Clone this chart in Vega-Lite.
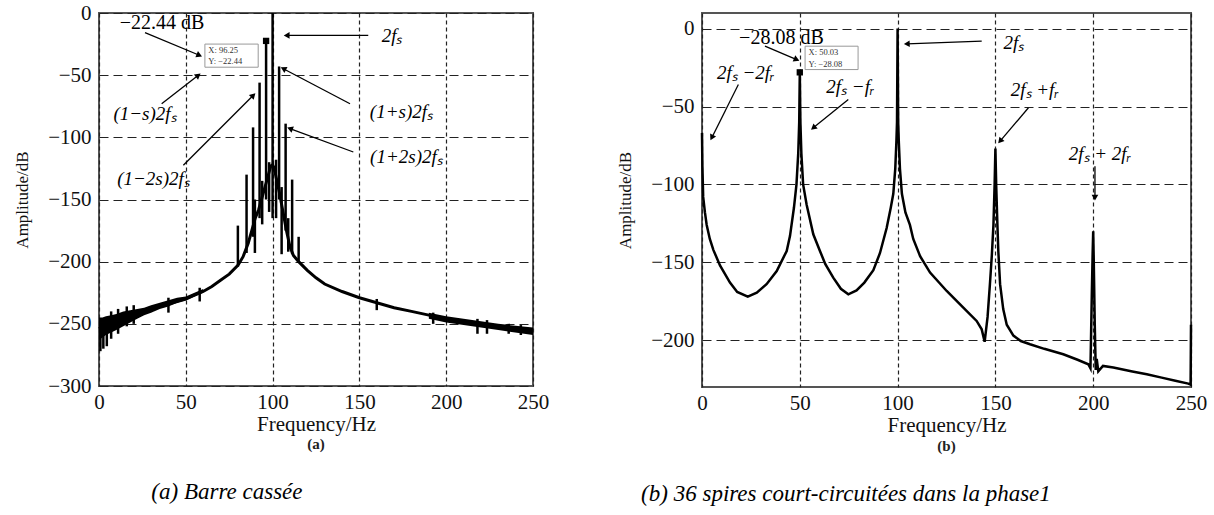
{
  "$schema": "https://vega.github.io/schema/vega-lite/v6.json",
  "background": "white",
  "padding": {"left": 12, "top": 1, "right": 0, "bottom": 0},
  "bounds": "flush",
  "spacing": 169,
  "config": {
    "font": "Liberation Serif",
    "view": {"stroke": "#555", "strokeWidth": 2},
    "axis": {
      "labelFont": "Liberation Serif", "labelFontSize": 21, "labelColor": "#111", "labelFlush": false,
      "titleFont": "Liberation Serif", "titleFontWeight": "normal", "titleColor": "#111",
      "ticks": false, "domain": false, "grid": true, "gridColor": "#222", "gridOpacity": 1, "gridWidth": 1.2
    },
    "axisX": {"gridDash": [4, 3], "labelPadding": 5, "titleFontSize": 21, "titlePadding": 1},
    "axisY": {"gridDash": [9, 5], "labelPadding": 8, "titleFontSize": 17, "titlePadding": 16}
  },
  "datasets": {
    "a_line": [
      {"f": 0, "amp": -254}, {"f": 5, "amp": -250}, {"f": 10, "amp": -247}, {"f": 15, "amp": -244},
      {"f": 20, "amp": -242}, {"f": 25, "amp": -240}, {"f": 30, "amp": -238}, {"f": 35, "amp": -236},
      {"f": 40, "amp": -234}, {"f": 45, "amp": -232}, {"f": 50, "amp": -230}, {"f": 55, "amp": -227},
      {"f": 60, "amp": -224}, {"f": 65, "amp": -220}, {"f": 70, "amp": -215}, {"f": 75, "amp": -210},
      {"f": 80, "amp": -203}, {"f": 83, "amp": -196}, {"f": 86, "amp": -185}, {"f": 88, "amp": -175},
      {"f": 90, "amp": -165}, {"f": 92, "amp": -158}, {"f": 94, "amp": -148}, {"f": 96, "amp": -138},
      {"f": 98, "amp": -128}, {"f": 99, "amp": -123}, {"f": 100, "amp": -122}, {"f": 101, "amp": -125},
      {"f": 102, "amp": -132}, {"f": 104, "amp": -145}, {"f": 106, "amp": -160}, {"f": 108, "amp": -175},
      {"f": 110, "amp": -188}, {"f": 112, "amp": -195}, {"f": 115, "amp": -200}, {"f": 120, "amp": -207},
      {"f": 125, "amp": -213}, {"f": 130, "amp": -218}, {"f": 140, "amp": -224}, {"f": 150, "amp": -229},
      {"f": 160, "amp": -233}, {"f": 170, "amp": -237}, {"f": 180, "amp": -240}, {"f": 190, "amp": -243},
      {"f": 200, "amp": -246}, {"f": 210, "amp": -248}, {"f": 220, "amp": -250}, {"f": 230, "amp": -252},
      {"f": 240, "amp": -254}, {"f": 250, "amp": -256}
    ],
    "a_band": [
      {"seg": "L", "f": 0, "amp": -263, "amp2": -245}, {"seg": "L", "f": 2, "amp": -261, "amp2": -245},
      {"seg": "L", "f": 4, "amp": -259, "amp2": -244}, {"seg": "L", "f": 7, "amp": -257, "amp2": -243},
      {"seg": "L", "f": 10, "amp": -255, "amp2": -242}, {"seg": "L", "f": 14, "amp": -252, "amp2": -240},
      {"seg": "L", "f": 18, "amp": -249, "amp2": -239}, {"seg": "L", "f": 22, "amp": -246, "amp2": -238},
      {"seg": "L", "f": 26, "amp": -243, "amp2": -237}, {"seg": "L", "f": 30, "amp": -241, "amp2": -235},
      {"seg": "L", "f": 35, "amp": -238, "amp2": -233}, {"seg": "L", "f": 40, "amp": -236, "amp2": -231},
      {"seg": "L", "f": 45, "amp": -233, "amp2": -229}, {"seg": "L", "f": 50, "amp": -231, "amp2": -228},
      {"seg": "L", "f": 55, "amp": -228, "amp2": -225}, {"seg": "L", "f": 60, "amp": -225, "amp2": -222},
      {"seg": "R", "f": 190, "amp": -246, "amp2": -241}, {"seg": "R", "f": 200, "amp": -249, "amp2": -244},
      {"seg": "R", "f": 215, "amp": -252, "amp2": -247}, {"seg": "R", "f": 230, "amp": -255, "amp2": -250},
      {"seg": "R", "f": 250, "amp": -259, "amp2": -253}
    ],
    "a_spikes": [
      {"f": 80, "amp": -171, "amp2": -204}, {"f": 85, "amp": -130, "amp2": -193},
      {"f": 88.75, "amp": -92, "amp2": -180}, {"f": 92.5, "amp": -56, "amp2": -165},
      {"f": 96.25, "amp": -22.44, "amp2": -150}, {"f": 100, "amp": 0, "amp2": -165},
      {"f": 103.75, "amp": -43, "amp2": -150}, {"f": 107.5, "amp": -89, "amp2": -175},
      {"f": 111.25, "amp": -134, "amp2": -194}, {"f": 115, "amp": -180, "amp2": -201},
      {"f": 89.8, "amp": -150, "amp2": -193}, {"f": 94, "amp": -135, "amp2": -170},
      {"f": 98, "amp": -120, "amp2": -160}, {"f": 102, "amp": -118, "amp2": -165},
      {"f": 105.2, "amp": -140, "amp2": -194}, {"f": 109, "amp": -165, "amp2": -192},
      {"f": 0.8, "amp": -248, "amp2": -272}, {"f": 2.5, "amp": -250, "amp2": -270},
      {"f": 4.5, "amp": -248, "amp2": -268}, {"f": 7, "amp": -240, "amp2": -262},
      {"f": 11, "amp": -238, "amp2": -258}, {"f": 16, "amp": -236, "amp2": -252},
      {"f": 20, "amp": -235, "amp2": -250}, {"f": 40, "amp": -229, "amp2": -241},
      {"f": 58, "amp": -221, "amp2": -232}, {"f": 160, "amp": -230, "amp2": -239},
      {"f": 192.5, "amp": -241, "amp2": -250}, {"f": 218, "amp": -246, "amp2": -258},
      {"f": 223.5, "amp": -247, "amp2": -258}, {"f": 236, "amp": -250, "amp2": -258},
      {"f": 243, "amp": -251, "amp2": -259}
    ],
    "a_arrows": [
      {"f": 26.5, "amp": -15.8, "f2": 57.8, "amp2": -34.0},
      {"f": 36.1, "amp": -73, "f2": 57.2, "amp2": -50.1},
      {"f": 48.6, "amp": -122.5, "f2": 88.9, "amp2": -66.2},
      {"f": 155.1, "amp": -18, "f2": 108.1, "amp2": -18},
      {"f": 144.6, "amp": -73, "f2": 106.2, "amp2": -44.8},
      {"f": 146.5, "amp": -111.8, "f2": 110, "amp2": -93}
    ],
    "a_formulas": [
      {"f": 168.8, "amp": -18.5, "label": "2fₛ"},
      {"f": 26.5, "amp": -81, "label": "(1−s)2fₛ"},
      {"f": 31.4, "amp": -133.5, "label": "(1−2s)2fₛ"},
      {"f": 174.2, "amp": -79.6, "label": "(1+s)2fₛ"},
      {"f": 177.1, "amp": -115.8, "label": "(1+2s)2fₛ"}
    ],
    "b_line": [
      {"f": 0, "amp": -67}, {"f": 0.2, "amp": -88}, {"f": 0.6, "amp": -108}, {"f": 1.5, "amp": -118},
      {"f": 2.4, "amp": -126}, {"f": 4, "amp": -135}, {"f": 5.8, "amp": -142}, {"f": 9.2, "amp": -152},
      {"f": 14.3, "amp": -163}, {"f": 18, "amp": -169}, {"f": 23.4, "amp": -172}, {"f": 28, "amp": -169.5},
      {"f": 33, "amp": -164}, {"f": 38.2, "amp": -155.6}, {"f": 43.3, "amp": -142.7}, {"f": 45, "amp": -133},
      {"f": 47, "amp": -115}, {"f": 48.3, "amp": -100}, {"f": 49.2, "amp": -80}, {"f": 49.7, "amp": -60},
      {"f": 50, "amp": -28.08}, {"f": 50.3, "amp": -60}, {"f": 50.8, "amp": -80}, {"f": 51.7, "amp": -100},
      {"f": 53.5, "amp": -113}, {"f": 56.9, "amp": -132}, {"f": 60.3, "amp": -142.7}, {"f": 63, "amp": -151},
      {"f": 67.1, "amp": -159.8}, {"f": 71, "amp": -167}, {"f": 74.8, "amp": -170.5}, {"f": 79, "amp": -168},
      {"f": 83, "amp": -163}, {"f": 87.6, "amp": -155}, {"f": 91, "amp": -144}, {"f": 94.4, "amp": -128},
      {"f": 96.5, "amp": -115}, {"f": 97.8, "amp": -106}, {"f": 98.8, "amp": -90}, {"f": 99.4, "amp": -72},
      {"f": 99.7, "amp": -60}, {"f": 100, "amp": 0}, {"f": 100.3, "amp": -60}, {"f": 100.6, "amp": -72},
      {"f": 101.2, "amp": -90}, {"f": 102.2, "amp": -106}, {"f": 104, "amp": -118}, {"f": 106.3, "amp": -126},
      {"f": 108, "amp": -135}, {"f": 111.5, "amp": -146}, {"f": 116.6, "amp": -156.6}, {"f": 125.1, "amp": -168.4},
      {"f": 133.6, "amp": -179}, {"f": 140.4, "amp": -187.6}, {"f": 143, "amp": -193}, {"f": 144.5, "amp": -201},
      {"f": 146, "amp": -185}, {"f": 147.2, "amp": -164}, {"f": 148.2, "amp": -145}, {"f": 149, "amp": -126},
      {"f": 149.6, "amp": -100}, {"f": 150, "amp": -77}, {"f": 150.4, "amp": -100}, {"f": 151, "amp": -125},
      {"f": 151.5, "amp": -143}, {"f": 152.4, "amp": -164}, {"f": 154, "amp": -180}, {"f": 155.8, "amp": -190},
      {"f": 159.2, "amp": -197}, {"f": 163, "amp": -200.5}, {"f": 167.7, "amp": -202.6}, {"f": 175, "amp": -205.5},
      {"f": 184.7, "amp": -209}, {"f": 192, "amp": -212.5}, {"f": 197.5, "amp": -215.4}, {"f": 198.6, "amp": -218},
      {"f": 199.3, "amp": -170}, {"f": 199.7, "amp": -145}, {"f": 200, "amp": -130}, {"f": 200.3, "amp": -150},
      {"f": 200.8, "amp": -190}, {"f": 201.3, "amp": -219}, {"f": 201.8, "amp": -212}, {"f": 202.6, "amp": -220},
      {"f": 205, "amp": -216.5}, {"f": 210.3, "amp": -217.5}, {"f": 220, "amp": -220}, {"f": 227.4, "amp": -221.8},
      {"f": 235, "amp": -224}, {"f": 242, "amp": -226}, {"f": 248.6, "amp": -227.8}, {"f": 249.8, "amp": -228.5},
      {"f": 250, "amp": -190}
    ],
    "b_arrows": [
      {"f": 32.2, "amp": -11.3, "f2": 48.4, "amp2": -19.9},
      {"f": 18.6, "amp": -35.9, "f2": 5, "amp2": -70},
      {"f": 74.8, "amp": -45.5, "f2": 56.9, "amp2": -63.7},
      {"f": 143, "amp": -8.1, "f2": 104.7, "amp2": -9.8},
      {"f": 166.9, "amp": -50.8, "f2": 152.4, "amp2": -72.2},
      {"f": 200.9, "amp": -88.3, "f2": 200.9, "amp2": -108.5}
    ],
    "b_formulas": [
      {"f": 22.4, "amp": -28.8, "label": "2fₛ −2fᵣ"},
      {"f": 75.9, "amp": -37.5, "label": "2fₛ −fᵣ"},
      {"f": 159.5, "amp": -9, "label": "2fₛ"},
      {"f": 170.2, "amp": -39.6, "label": "2fₛ +fᵣ"},
      {"f": 203.5, "amp": -80.8, "label": "2fₛ + 2fᵣ"}
    ]
  },
  "hconcat": [
    {
      "width": 434,
      "height": 373,
      "encoding": {
        "x": {"field": "f", "type": "quantitative", "scale": {"domain": [0, 250]}, "axis": {"values": [0, 50, 100, 150, 200, 250], "title": "Frequency/Hz"}},
        "y": {"field": "amp", "type": "quantitative", "scale": {"domain": [-300, 0]}, "axis": {"values": [0, -50, -100, -150, -200, -250, -300], "title": "Amplitude/dB"}}
      },
      "layer": [
        {"data": {"name": "a_band"}, "mark": {"type": "area", "color": "black", "opacity": 1}, "encoding": {"y2": {"field": "amp2"}, "detail": {"field": "seg"}}},
        {"data": {"name": "a_line"}, "mark": {"type": "line", "color": "black", "strokeWidth": 3}},
        {"data": {"name": "a_spikes"}, "mark": {"type": "rule", "color": "black", "strokeWidth": 2.5}, "encoding": {"y2": {"field": "amp2"}}},
        {"data": {"values": [{"f": 96.25, "amp": -22.44}]}, "mark": {"type": "square", "color": "black", "filled": true, "size": 40, "opacity": 1}},
        {"data": {"values": [{"f": 61, "f2": 91.7, "amp": -25, "amp2": -43.6}]}, "mark": {"type": "rect", "fill": "white", "stroke": "#999", "strokeWidth": 1}, "encoding": {"x2": {"field": "f2"}, "y2": {"field": "amp2"}}},
        {"data": {"values": [{"f": 63, "amp": -29.5, "label": "X: 96.25"}, {"f": 63, "amp": -38.5, "label": "Y: −22.44"}]}, "mark": {"type": "text", "align": "left", "fontSize": 8.5, "color": "#333"}, "encoding": {"text": {"field": "label"}}},
        {"data": {"name": "a_arrows"}, "mark": {"type": "rule", "color": "black", "strokeWidth": 1.3}, "encoding": {"x2": {"field": "f2"}, "y2": {"field": "amp2"}}},
        {
          "data": {"name": "a_arrows"},
          "transform": [{"calculate": "atan2((datum.f2 - datum.f) * 1.736, (datum.amp2 - datum.amp) * 1.2433) * 180 / PI", "as": "ang"}],
          "mark": {"type": "point", "shape": "triangle-up", "filled": true, "color": "black", "size": 45, "opacity": 1},
          "encoding": {
            "x": {"field": "f2", "type": "quantitative", "scale": {"domain": [0, 250]}, "title": "Frequency/Hz"},
            "y": {"field": "amp2", "type": "quantitative", "scale": {"domain": [-300, 0]}, "title": "Amplitude/dB"},
            "angle": {"field": "ang", "type": "quantitative", "scale": null}
          }
        },
        {"data": {"values": [{"f": 36.3, "amp": -8, "label": "−22.44 dB"}]}, "mark": {"type": "text", "fontSize": 20, "color": "black"}, "encoding": {"text": {"field": "label"}}},
        {"data": {"name": "a_formulas"}, "mark": {"type": "text", "fontSize": 19, "fontStyle": "italic", "color": "black"}, "encoding": {"text": {"field": "label"}}},
        {"data": {"values": [{"f": 125, "amp": -346.7, "label": "(a)"}]}, "mark": {"type": "text", "fontSize": 15, "fontWeight": "bold", "color": "#222"}, "encoding": {"text": {"field": "label"}}},
        {"data": {"values": [{"f": 73.7, "amp": -385.3, "label": "(a) Barre cassée"}]}, "mark": {"type": "text", "fontSize": 23, "fontStyle": "italic", "color": "black"}, "encoding": {"text": {"field": "label"}}}
      ]
    },
    {
      "width": 489,
      "height": 374,
      "encoding": {
        "x": {"field": "f", "type": "quantitative", "scale": {"domain": [0, 250]}, "axis": {"values": [0, 50, 100, 150, 200, 250], "title": "Frequency/Hz"}},
        "y": {"field": "amp", "type": "quantitative", "scale": {"domain": [-230, 10]}, "axis": {"values": [0, -50, -100, -150, -200], "title": "Amplitude/dB"}}
      },
      "layer": [
        {"data": {"name": "b_line"}, "mark": {"type": "line", "color": "black", "strokeWidth": 2.5}},
        {"data": {"values": [{"f": 50, "amp": -28.08}]}, "mark": {"type": "square", "color": "black", "filled": true, "size": 40, "opacity": 1}},
        {"data": {"values": [{"f": 52.7, "f2": 79.8, "amp": -11.3, "amp2": -26.3}]}, "mark": {"type": "rect", "fill": "white", "stroke": "#999", "strokeWidth": 1}, "encoding": {"x2": {"field": "f2"}, "y2": {"field": "amp2"}}},
        {"data": {"values": [{"f": 54.5, "amp": -15, "label": "X: 50.03"}, {"f": 54.5, "amp": -22.5, "label": "Y: −28.08"}]}, "mark": {"type": "text", "align": "left", "fontSize": 8.5, "color": "#333"}, "encoding": {"text": {"field": "label"}}},
        {"data": {"name": "b_arrows"}, "mark": {"type": "rule", "color": "black", "strokeWidth": 1.3}, "encoding": {"x2": {"field": "f2"}, "y2": {"field": "amp2"}}},
        {
          "data": {"name": "b_arrows"},
          "transform": [{"calculate": "atan2((datum.f2 - datum.f) * 1.956, (datum.amp2 - datum.amp) * 1.56) * 180 / PI", "as": "ang"}],
          "mark": {"type": "point", "shape": "triangle-up", "filled": true, "color": "black", "size": 45, "opacity": 1},
          "encoding": {
            "x": {"field": "f2", "type": "quantitative", "scale": {"domain": [0, 250]}, "title": "Frequency/Hz"},
            "y": {"field": "amp2", "type": "quantitative", "scale": {"domain": [-230, 10]}, "title": "Amplitude/dB"},
            "angle": {"field": "ang", "type": "quantitative", "scale": null}
          }
        },
        {"data": {"values": [{"f": 40.6, "amp": -6, "label": "−28.08 dB"}]}, "mark": {"type": "text", "fontSize": 20, "color": "black"}, "encoding": {"text": {"field": "label"}}},
        {"data": {"name": "b_formulas"}, "mark": {"type": "text", "fontSize": 19, "fontStyle": "italic", "color": "black"}, "encoding": {"text": {"field": "label"}}},
        {"data": {"values": [{"f": 125, "amp": -268, "label": "(b)"}]}, "mark": {"type": "text", "fontSize": 15, "fontWeight": "bold", "color": "#222"}, "encoding": {"text": {"field": "label"}}},
        {"data": {"values": [{"f": 73.6, "amp": -298.7, "label": "(b) 36 spires court-circuitées dans la phase1"}]}, "mark": {"type": "text", "fontSize": 23, "fontStyle": "italic", "color": "black"}, "encoding": {"text": {"field": "label"}}}
      ]
    }
  ]
}
